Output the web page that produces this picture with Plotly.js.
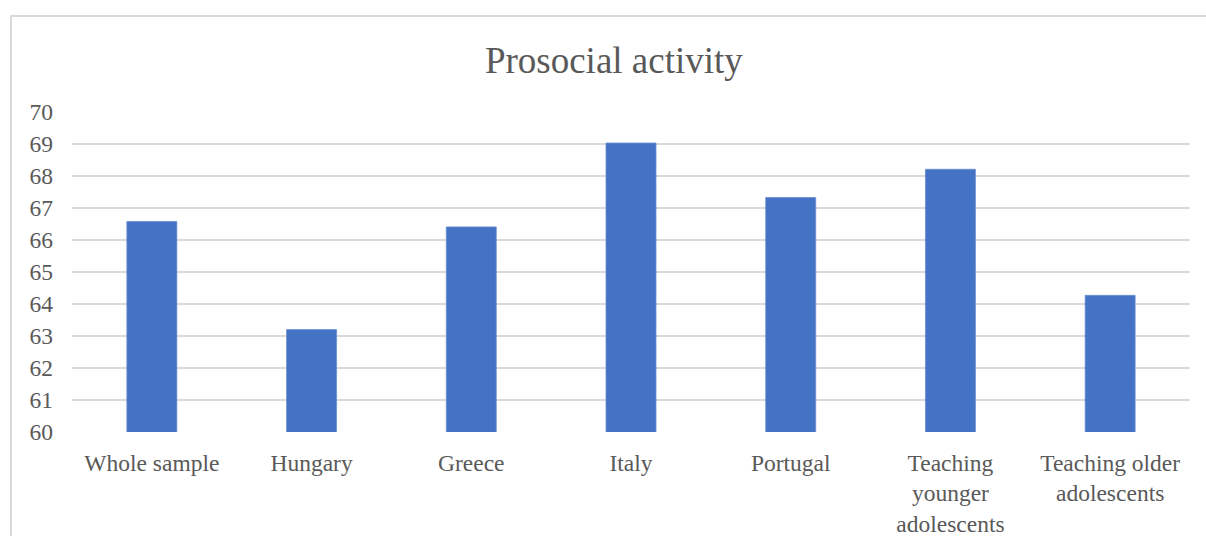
<!DOCTYPE html>
<html>
<head>
<meta charset="utf-8">
<script src="https://cdn.plot.ly/plotly-3.0.1.min.js"></script>
<style>
  html, body { margin: 0; padding: 0; background: #fff; overflow: hidden; }
  #frame { position: absolute; left: 10px; top: 15px; width: 1300px; height: 700px;
           border: 2px solid #d9d9d9; box-sizing: border-box; pointer-events: none; }
  #chart { position: absolute; left: 0; top: 0; width: 1206px; height: 536px; }
</style>
</head>
<body>
<div id="chart"></div>
<div id="frame"></div>
<script>
const categories = [
  "Whole sample",
  "Hungary",
  "Greece",
  "Italy",
  "Portugal",
  "Teaching<br>younger<br>adolescents",
  "Teaching older<br>adolescents"
];
const values = [66.58, 63.20, 66.41, 69.03, 67.33, 68.21, 64.27];
const yTicks = [60, 61, 62, 63, 64, 65, 66, 67, 68, 69, 70];

const fontFamily = '"Liberation Serif", "Times New Roman", Times, serif';
const textColor = '#595959';

const trace = {
  type: 'bar',
  x: categories,
  y: values,
  marker: { color: '#4472c4', line: { color: '#6a8fd4', width: 0.8 } },
  hoverinfo: 'x+y'
};

const layout = {
  width: 1206,
  height: 536,
  margin: { l: 72, r: 16, t: 112, b: 104 },
  paper_bgcolor: '#ffffff',
  plot_bgcolor: '#ffffff',
  bargap: 0.687,
  showlegend: false,
  font: { family: fontFamily, color: textColor, size: 23.5 },
  title: {
    text: 'Prosocial activity',
    font: { family: fontFamily, size: 37, color: textColor },
    xref: 'container', x: 0.509, xanchor: 'center',
    yref: 'container', y: 1 - 60 / 536, yanchor: 'middle'
  },
  xaxis: {
    type: 'category',
    showgrid: false,
    showline: false,
    zeroline: false,
    ticks: '',
    tickangle: 0,
    ticklabelstandoff: 14,
    tickfont: { family: fontFamily, size: 23.5, color: textColor }
  },
  yaxis: {
    range: [60, 70],
    tickvals: yTicks,
    ticktext: yTicks.map(String),
    showgrid: true,
    gridcolor: '#d9d9d9',
    gridwidth: 1.5,
    zeroline: false,
    showline: false,
    ticks: '',
    ticklabelstandoff: 18,
    tickfont: { family: fontFamily, size: 23.5, color: textColor }
  }
};

Plotly.newPlot('chart', [trace], layout, { displayModeBar: false, staticPlot: true });
</script>
</body>
</html>
